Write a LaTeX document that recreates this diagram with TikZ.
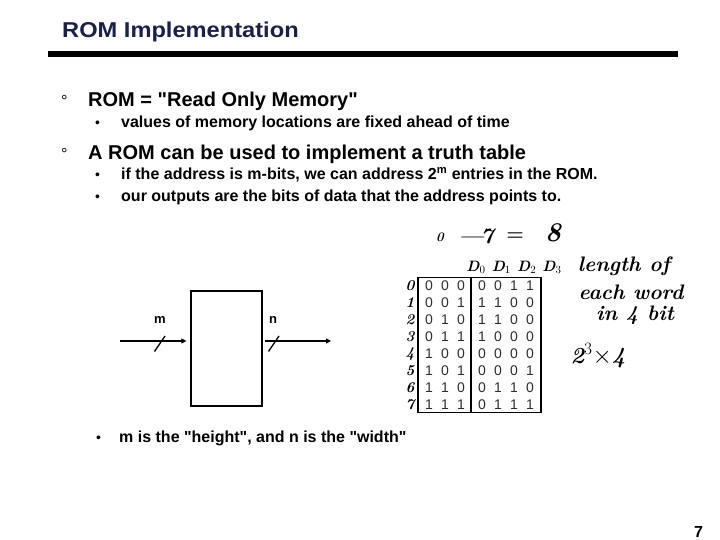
\documentclass[tikz,border=0pt]{standalone}
\usepackage{fontspec}
\setsansfont{Liberation Sans}
\usetikzlibrary{arrows.meta}
\definecolor{titleblue}{RGB}{26,32,72}
\definecolor{digitgray}{RGB}{45,45,45}
\newcommand{\fs}[1]{\fontsize{#1}{#1}\selectfont}
\newcommand{\qq}{\textquotedbl}
\tikzset{
 txt/.style={anchor=base west, inner sep=0pt},
 hand/.style={inner sep=0pt},
 digit/.style={inner sep=0pt, font=\sffamily\fs{14}, text=digitgray},
 wire/.style={line width=1.3pt, -{Triangle[length=5pt,width=5pt]}},
 slash/.style={line width=1.3pt},
}
\begin{document}
\begin{tikzpicture}[x=1pt,y=-1pt]
\useasboundingbox (0,0) rectangle (720,540);
% title
\node[txt, text=titleblue, font=\sffamily\bfseries\fs{21.5}] (title) at (62,37.5) {\scalebox{1.1}[1]{ROM Implementation}};
\fill (48,51) rectangle (678,57);
% bullets
\node[txt, font=\sffamily\fs{16}] (d1) at (61,107) {°};
\node[txt, font=\sffamily\bfseries\fs{20}] (l1) at (88,107) {ROM = \qq Read Only Memory\qq};
\node[txt, font=\sffamily\fs{14}] (s1) at (95,128) {•};
\node[txt, font=\sffamily\bfseries\fs{16}] (l2) at (121,128) {values of memory locations are fixed ahead of time};
\node[txt, font=\sffamily\fs{16}] (d2) at (61,160) {°};
\node[txt, font=\sffamily\bfseries\fs{20}] (l3) at (88,160) {A ROM can be used to implement a truth table};
\node[txt, font=\sffamily\fs{14}] (s2) at (95,180) {•};
\node[txt, font=\sffamily\bfseries\fs{16}] (l4) at (121,180) {if the address is m-bits, we can address 2\textsuperscript{m} entries in the ROM.};
\node[txt, font=\sffamily\fs{14}] (s3) at (95,202) {•};
\node[txt, font=\sffamily\bfseries\fs{16}] (l5) at (121,202) {our outputs are the bits of data that the address points to.};
\node[txt, font=\sffamily\fs{14}] (s4) at (96,442) {•};
\node[txt, font=\sffamily\bfseries\fs{16}] (l6) at (119,442) {m is the \qq height\qq, and n is the \qq width\qq};
\node[txt, font=\sffamily\bfseries\fs{16}] (pg) at (694,537) {7};
% ROM box
\node[draw, line width=1.3pt, minimum width=71pt, minimum height=115pt, inner sep=0pt] (rom) at (226.5,348.5) {};
\coordinate (in) at (120,341);
\coordinate (out) at (331,341);
\draw[wire, shorten >=4pt] (in) -- (in -| rom.west);
\draw[wire, shorten <=2pt] (out -| rom.east) -- (out);
\draw[slash] (154.5,351.5) -- (165,336);
\draw[slash] (268.5,351.5) -- (279,336);
\node[font=\sffamily\bfseries\fs{13}, inner sep=0pt] (m) at (160,320) {m};
\node[font=\sffamily\bfseries\fs{13}, inner sep=0pt] (n) at (273,320) {n};
% truth table
\node[draw, line width=1.6pt, minimum width=123pt, minimum height=135pt, inner sep=0pt] (tbl) at (479.5,345) {};
\draw[line width=1.6pt] ([xshift=54pt]tbl.north west) -- ([xshift=54pt]tbl.south west);
\foreach \r/\a/\b/\c/\d/\e/\f/\g in {0/0/0/0/0/0/1/1,1/0/0/1/1/1/0/0,2/0/1/0/1/1/0/0,3/0/1/1/1/0/0/0,4/1/0/0/0/0/0/0,5/1/0/1/0/0/0/1,6/1/1/0/0/1/1/0,7/1/1/1/0/1/1/1}{
  \node[digit] (a\r) at (429,286+16.9*\r) {\a};
  \node[digit] (b\r) at (445,286+16.9*\r) {\b};
  \node[digit] (c\r) at (461,286+16.9*\r) {\c};
  \node[digit] (d\r) at (482,286+16.9*\r) {\d};
  \node[digit] (e\r) at (498,286+16.9*\r) {\e};
  \node[digit] (f\r) at (514,286+16.9*\r) {\f};
  \node[digit] (g\r) at (530,286+16.9*\r) {\g};
  \node[hand, font=\rmfamily\itshape\bfseries\fs{15}] (h\r) at (410,286+16.9*\r) {\r};
}
% handwritten notes
\node[hand, font=\rmfamily\itshape\bfseries\fs{13}] (z0) at (440,237) {0};
\node[hand, font=\rmfamily\itshape\bfseries\fs{22}] (z7) at (476,236) {---\!7};
\node[hand, font=\rmfamily\bfseries\fs{20}] (zeq) at (515,237) {=};
\node[hand, font=\rmfamily\itshape\bfseries\fs{27}] (z8) at (553,233) {8};
\node[hand, font=\rmfamily\itshape\bfseries\fs{15}] (dd) at (514,267) {D$_0$ D$_1$ D$_2$ D$_3$};
\node[hand, font=\rmfamily\itshape\bfseries\fs{21}] (n1) at (624,266) {length of};
\node[hand, font=\rmfamily\itshape\bfseries\fs{21}] (n2) at (631,292) {each word};
\node[hand, font=\rmfamily\itshape\bfseries\fs{21}] (n3) at (635,315) {in 4 bit};
\node[hand, font=\rmfamily\itshape\bfseries\fs{23}] (n4) at (598,356) {2$^{3}$$\times$4};
\end{tikzpicture}
\end{document}
